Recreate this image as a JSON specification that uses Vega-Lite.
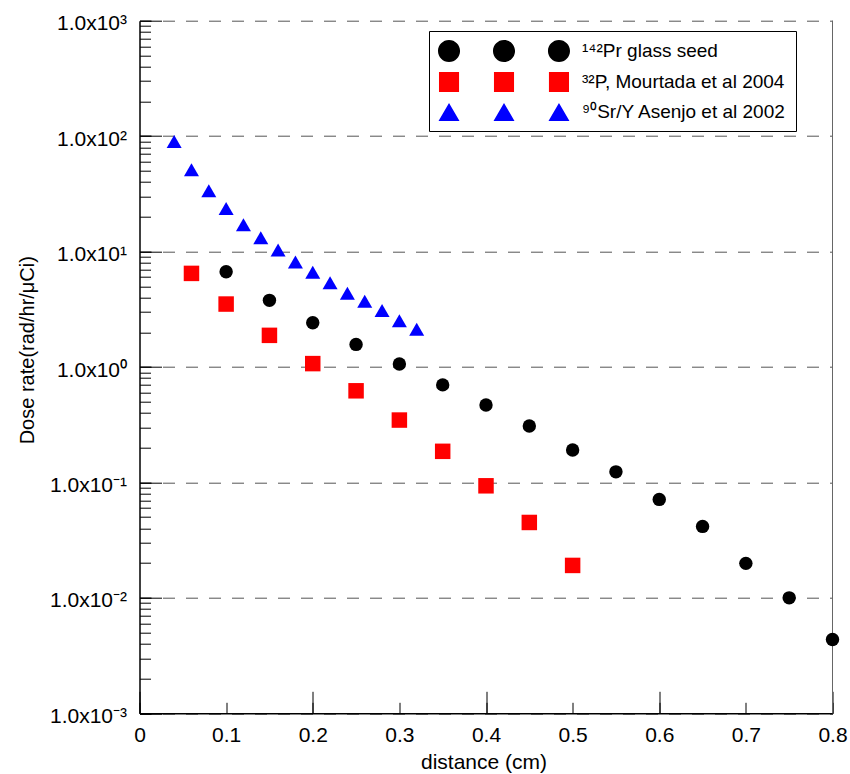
{
  "$schema": "https://vega.github.io/schema/vega-lite/v6.json",
  "width": 693,
  "height": 692.6,
  "autosize": {"type": "none"},
  "padding": {"left": 139.5, "top": 20.7, "right": 17.5, "bottom": 60.7},
  "background": "white",
  "config": {"view": {"stroke": null}, "font": "Liberation Sans"},
  "data": {"values": [
    {"series": "¹⁴²Pr glass seed", "distance": 0.1, "dose": 6.68},
    {"series": "¹⁴²Pr glass seed", "distance": 0.15, "dose": 3.78},
    {"series": "¹⁴²Pr glass seed", "distance": 0.2, "dose": 2.42},
    {"series": "¹⁴²Pr glass seed", "distance": 0.25, "dose": 1.57},
    {"series": "¹⁴²Pr glass seed", "distance": 0.3, "dose": 1.06},
    {"series": "¹⁴²Pr glass seed", "distance": 0.35, "dose": 0.70},
    {"series": "¹⁴²Pr glass seed", "distance": 0.4, "dose": 0.468},
    {"series": "¹⁴²Pr glass seed", "distance": 0.45, "dose": 0.308},
    {"series": "¹⁴²Pr glass seed", "distance": 0.5, "dose": 0.191},
    {"series": "¹⁴²Pr glass seed", "distance": 0.55, "dose": 0.1235},
    {"series": "¹⁴²Pr glass seed", "distance": 0.6, "dose": 0.0713},
    {"series": "¹⁴²Pr glass seed", "distance": 0.65, "dose": 0.0416},
    {"series": "¹⁴²Pr glass seed", "distance": 0.7, "dose": 0.0199},
    {"series": "¹⁴²Pr glass seed", "distance": 0.75, "dose": 0.0100},
    {"series": "¹⁴²Pr glass seed", "distance": 0.8, "dose": 0.00436},
    {"series": "³²P, Mourtada et al 2004", "distance": 0.06, "dose": 6.47},
    {"series": "³²P, Mourtada et al 2004", "distance": 0.1, "dose": 3.51},
    {"series": "³²P, Mourtada et al 2004", "distance": 0.15, "dose": 1.88},
    {"series": "³²P, Mourtada et al 2004", "distance": 0.2, "dose": 1.07},
    {"series": "³²P, Mourtada et al 2004", "distance": 0.25, "dose": 0.622},
    {"series": "³²P, Mourtada et al 2004", "distance": 0.3, "dose": 0.347},
    {"series": "³²P, Mourtada et al 2004", "distance": 0.35, "dose": 0.186},
    {"series": "³²P, Mourtada et al 2004", "distance": 0.4, "dose": 0.0935},
    {"series": "³²P, Mourtada et al 2004", "distance": 0.45, "dose": 0.045},
    {"series": "³²P, Mourtada et al 2004", "distance": 0.5, "dose": 0.0191},
    {"series": "⁹⁰Sr/Y Asenjo et al 2002", "distance": 0.04, "dose": 89.8},
    {"series": "⁹⁰Sr/Y Asenjo et al 2002", "distance": 0.06, "dose": 51.2},
    {"series": "⁹⁰Sr/Y Asenjo et al 2002", "distance": 0.08, "dose": 33.6},
    {"series": "⁹⁰Sr/Y Asenjo et al 2002", "distance": 0.1, "dose": 23.6},
    {"series": "⁹⁰Sr/Y Asenjo et al 2002", "distance": 0.12, "dose": 17.1},
    {"series": "⁹⁰Sr/Y Asenjo et al 2002", "distance": 0.14, "dose": 13.2},
    {"series": "⁹⁰Sr/Y Asenjo et al 2002", "distance": 0.16, "dose": 10.3},
    {"series": "⁹⁰Sr/Y Asenjo et al 2002", "distance": 0.18, "dose": 8.14},
    {"series": "⁹⁰Sr/Y Asenjo et al 2002", "distance": 0.2, "dose": 6.62},
    {"series": "⁹⁰Sr/Y Asenjo et al 2002", "distance": 0.22, "dose": 5.37},
    {"series": "⁹⁰Sr/Y Asenjo et al 2002", "distance": 0.24, "dose": 4.35},
    {"series": "⁹⁰Sr/Y Asenjo et al 2002", "distance": 0.26, "dose": 3.71},
    {"series": "⁹⁰Sr/Y Asenjo et al 2002", "distance": 0.28, "dose": 3.08},
    {"series": "⁹⁰Sr/Y Asenjo et al 2002", "distance": 0.3, "dose": 2.51},
    {"series": "⁹⁰Sr/Y Asenjo et al 2002", "distance": 0.32, "dose": 2.12}
  ]},
  "resolve": {"axis": {"x": "independent", "y": "independent"}},
  "layer": [
    {
      "data": {"values": [{"distance": 0.8, "low": 0.001, "high": 1000}]},
      "mark": {"type": "rule", "color": "#666666", "strokeWidth": 1},
      "encoding": {
        "x": {
          "field": "distance", "type": "quantitative",
          "scale": {"domain": [0, 0.8], "nice": false, "zero": false},
          "axis": {
            "orient": "bottom", "title": null, "labels": false, "domain": false, "grid": false,
            "values": [0, 0.2, 0.4, 0.6, 0.8],
            "tickSize": -22, "tickColor": "black", "tickWidth": 1
          }
        },
        "y": {
          "field": "low", "type": "quantitative",
          "scale": {"type": "log", "domain": [0.001, 1000], "nice": false},
          "axis": {
            "orient": "left", "title": null, "labels": false, "domain": false, "grid": false,
            "values": [0.001, 0.01, 0.1, 1, 10, 100, 1000],
            "tickSize": -22, "tickColor": "black", "tickWidth": 1
          }
        },
        "y2": {"field": "high"}
      }
    },
    {
      "encoding": {
        "x": {
          "field": "distance", "type": "quantitative",
          "scale": {"domain": [0, 0.8], "nice": false, "zero": false},
          "axis": {
            "orient": "bottom",
            "title": "distance (cm)",
            "values": [0, 0.1, 0.2, 0.3, 0.4, 0.5, 0.6, 0.7, 0.8],
            "format": ".1~f",
            "tickSize": -11,
            "labelPadding": 22.5,
            "tickColor": "black", "tickWidth": 1,
            "domainColor": "black", "domainWidth": 1.5,
            "grid": false,
            "labelFont": "Liberation Sans", "labelFontSize": 21, "labelColor": "black",
            "labelFlush": false, "labelOverlap": false, "labelBound": false,
            "titleFont": "Liberation Sans", "titleFontSize": 21, "titleFontWeight": "normal", "titleColor": "black",
            "titleX": 344, "titleY": 54.7, "titleAlign": "center", "titleBaseline": "alphabetic"
          }
        },
        "y": {
          "field": "dose", "type": "quantitative",
          "scale": {"type": "log", "domain": [0.001, 1000], "nice": false},
          "axis": {
            "orient": "left",
            "title": "Dose rate(rad/hr/μCi)",
            "values": [0.001, 0.002, 0.003, 0.004, 0.005, 0.006, 0.007, 0.008, 0.009,
                       0.01, 0.02, 0.03, 0.04, 0.05, 0.06, 0.07, 0.08, 0.09,
                       0.1, 0.2, 0.3, 0.4, 0.5, 0.6, 0.7, 0.8, 0.9,
                       1, 2, 3, 4, 5, 6, 7, 8, 9,
                       10, 20, 30, 40, 50, 60, 70, 80, 90,
                       100, 200, 300, 400, 500, 600, 700, 800, 900, 1000],
            "labelExpr": "abs(log(datum.value)/LN10 - round(log(datum.value)/LN10)) < 0.01 ? '1.0x10' + ['⁻³','⁻²','⁻¹','⁰','¹','²','³'][round(log(datum.value)/LN10)+3] : ''",
            "tickSize": -11,
            "labelPadding": 24,
            "tickColor": "black", "tickWidth": 1,
            "domainColor": "black", "domainWidth": 1.5,
            "grid": true, "gridColor": "#555555", "gridDash": [12, 11], "gridWidth": 1,
            "gridOpacity": {"condition": {"test": "abs(log(datum.value)/LN10 - round(log(datum.value)/LN10)) < 0.01", "value": 1}, "value": 0},
            "labelFont": "Liberation Sans", "labelFontSize": 21, "labelColor": "black",
            "labelOverlap": false, "labelBound": false, "labelFlush": false, "labelOffset": 3,
            "titleFont": "Liberation Sans", "titleFontSize": 20, "titleFontWeight": "normal", "titleColor": "black",
            "titleAngle": -90, "titleX": -106, "titleY": 329, "titleAlign": "center", "titleBaseline": "alphabetic"
          }
        },
        "color": {
          "field": "series", "type": "nominal",
          "scale": {"domain": ["¹⁴²Pr glass seed", "³²P, Mourtada et al 2004", "⁹⁰Sr/Y Asenjo et al 2002"], "range": ["#000000", "#ff0000", "#0000ff"]},
          "legend": {
            "title": null,
            "orient": "none", "legendX": 289.5, "legendY": 10.3,
            "direction": "vertical",
            "symbolSize": 17424,
            "symbolStrokeWidth": 0,
            "symbolOpacity": 1,
            "labelFont": "Liberation Sans", "labelFontSize": 19, "labelColor": "black",
            "labelOffset": 12, "labelLimit": 400,
            "strokeColor": "black", "fillColor": "white", "padding": 9,
            "rowPadding": 8,
            "encode": {
              "symbols": {"update": {
                "size": {"value": 17424},
                "y": {"value": 11},
                "shape": {"signal": "datum.value === '¹⁴²Pr glass seed' ? 'M-1,0A0.167,0.167 0 1,1 -0.666,0A0.167,0.167 0 1,1 -1,0ZM-0.167,0A0.167,0.167 0 1,1 0.167,0A0.167,0.167 0 1,1 -0.167,0ZM0.666,0A0.167,0.167 0 1,1 1,0A0.167,0.167 0 1,1 0.666,0Z' : datum.value === '³²P, Mourtada et al 2004' ? 'M-0.985,-0.152H-0.681V0.152H-0.985ZM-0.152,-0.152H0.152V0.152H-0.152ZM0.681,-0.152H0.985V0.152H0.681Z' : 'M-0.833,-0.136L-0.674,0.136L-0.992,0.136ZM0,-0.136L0.159,0.136L-0.159,0.136ZM0.833,-0.136L0.992,0.136L0.674,0.136Z'"}
              }},
              "labels": {"update": {"y": {"value": 11}}}
            }
          }
        }
      },
      "layer": [
        {
          "transform": [{"filter": "datum.series === '¹⁴²Pr glass seed'"}],
          "mark": {"type": "point", "filled": true, "opacity": 1, "strokeWidth": 0, "shape": "circle", "size": 180}
        },
        {
          "transform": [{"filter": "datum.series === '³²P, Mourtada et al 2004'"}],
          "mark": {"type": "point", "filled": true, "opacity": 1, "strokeWidth": 0, "shape": "square", "size": 240}
        },
        {
          "transform": [{"filter": "datum.series === '⁹⁰Sr/Y Asenjo et al 2002'"}],
          "mark": {"type": "point", "filled": true, "opacity": 1, "strokeWidth": 0, "shape": "triangle-up", "size": 225}
        }
      ]
    }
  ]
}
